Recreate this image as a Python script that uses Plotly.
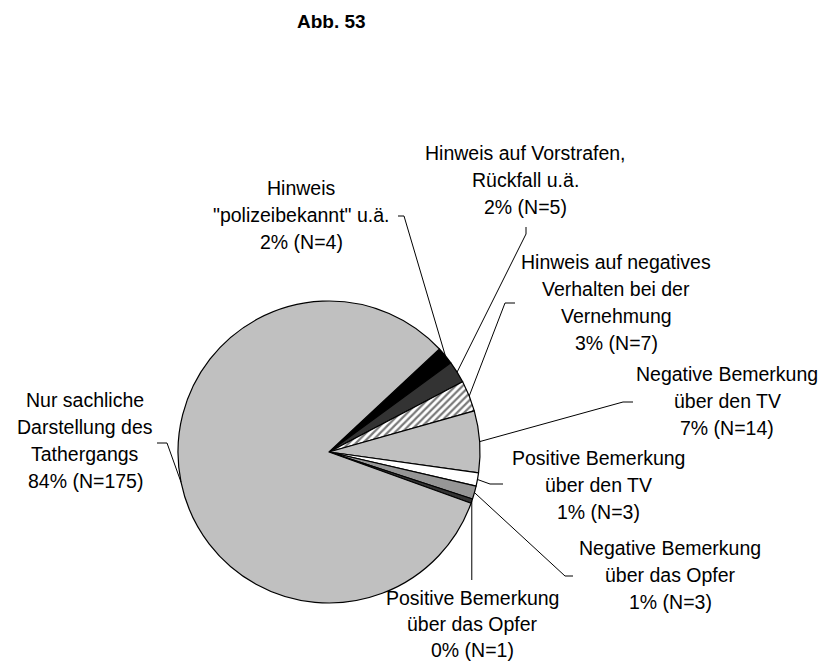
import math
import plotly.graph_objects as go

# ---- data -------------------------------------------------------------
categories = [
    'Hinweis "polizeibekannt" u.ä.',
    "Hinweis auf Vorstrafen, Rückfall u.ä.",
    "Hinweis auf negatives Verhalten bei der Vernehmung",
    "Negative Bemerkung über den TV",
    "Positive Bemerkung über den TV",
    "Negative Bemerkung über das Opfer",
    "Positive Bemerkung über das Opfer",
    "Nur sachliche Darstellung des Tathergangs",
]
counts = [4, 5, 7, 14, 3, 3, 1, 175]
percent_labels = ["2%", "2%", "3%", "7%", "1%", "1%", "0%", "84%"]
label_lines = [
    ["Hinweis", '"polizeibekannt" u.ä.'],
    ["Hinweis auf Vorstrafen,", "Rückfall u.ä."],
    ["Hinweis auf negatives", "Verhalten bei der", "Vernehmung"],
    ["Negative Bemerkung", "über den TV"],
    ["Positive Bemerkung", "über den TV"],
    ["Negative Bemerkung", "über das Opfer"],
    ["Positive Bemerkung", "über das Opfer"],
    ["Nur sachliche", "Darstellung des", "Tathergangs"],
]
title_text = "Abb. 53"

# ---- styling / layout ---------------------------------------------------
W, H = 827, 663
CX, CY, R = 329, 452, 151          # pie centre and radius in pixels
ROTATION = 47                      # start angle, degrees clockwise from 12 o'clock
FONT = "Liberation Sans, Arial, sans-serif"
LABEL_SIZE = 19.5

slice_colors = ["#000000", "#333333", "#ffffff", "#c0c0c0",
                "#ffffff", "#969696", "#333333", "#c0c0c0"]
pattern_shapes = ["", "", "/", "", "", "", "", ""]

# label block: centre x, first line y, line step, short tick (start, elbow) in px
label_place = [
    dict(cx=301, y0=188, step=27, tick=((398, 216), (404, 216))),
    dict(cx=525, y0=153, step=27, tick=((526, 227), (526, 234))),
    dict(cx=616, y0=262, step=27, tick=((515, 303), (505, 303))),
    dict(cx=727, y0=374, step=27, tick=((633, 402), (623, 402))),
    dict(cx=598, y0=458, step=27, tick=((503, 484), (490, 484))),
    dict(cx=670, y0=548, step=27, tick=((573, 576), (565, 576))),
    dict(cx=472, y0=598, step=26, tick=None, drop_to=580),
    dict(cx=85, y0=400, step=27, tick=((157, 443), (167, 443))),
]


def px(x):
    return x / W


def py(y):
    return 1 - y / H


fig = go.Figure(
    go.Pie(
        labels=categories,
        values=counts,
        sort=False,
        direction="clockwise",
        rotation=ROTATION,
        textinfo="none",
        hoverinfo="label+value",
        marker=dict(
            colors=slice_colors,
            line=dict(color="#000000", width=1.2),
            pattern=dict(shape=pattern_shapes, fgcolor="#7a7a7a",
                         bgcolor="#ffffff", size=5, solidity=0.45),
        ),
        domain=dict(x=[px(CX - R), px(CX + R)], y=[py(CY + R), py(CY - R)]),
        showlegend=False,
    )
)

annotations = [
    dict(x=px(331), y=py(21), xref="paper", yref="paper", text=f"<b>{title_text}</b>",
         showarrow=False, xanchor="center", yanchor="middle",
         font=dict(family=FONT, size=19, color="#000000"))
]
shapes = []

total = sum(counts)
cum = 0
for i, n in enumerate(counts):
    mid = math.radians(ROTATION + (cum + n / 2) / total * 360)
    cum += n
    ex, ey = CX + R * math.sin(mid), CY - R * math.cos(mid)

    place = label_place[i]
    lines = label_lines[i] + [f"{percent_labels[i]} (N={n})"]
    for k, line in enumerate(lines):
        annotations.append(dict(
            x=px(place["cx"]), y=py(place["y0"] + k * place["step"]),
            xref="paper", yref="paper", text=line, showarrow=False,
            xanchor="center", yanchor="middle",
            font=dict(family=FONT, size=LABEL_SIZE, color="#000000")))

    if place["tick"] is not None:
        (tx0, ty0), (tx1, ty1) = place["tick"]
        segs = [((tx0, ty0), (tx1, ty1)), ((tx1, ty1), (ex, ey))]
    else:
        segs = [((ex, ey), (ex, place["drop_to"]))]
    for (x0, y0), (x1, y1) in segs:
        shapes.append(dict(type="line", xref="paper", yref="paper",
                           x0=px(x0), y0=py(y0), x1=px(x1), y1=py(y1),
                           line=dict(color="#000000", width=1)))

fig.update_layout(
    width=W, height=H,
    margin=dict(l=0, r=0, t=0, b=0),
    paper_bgcolor="#ffffff",
    plot_bgcolor="#ffffff",
    annotations=annotations,
    shapes=shapes,
)

fig.write_html("out.html")
